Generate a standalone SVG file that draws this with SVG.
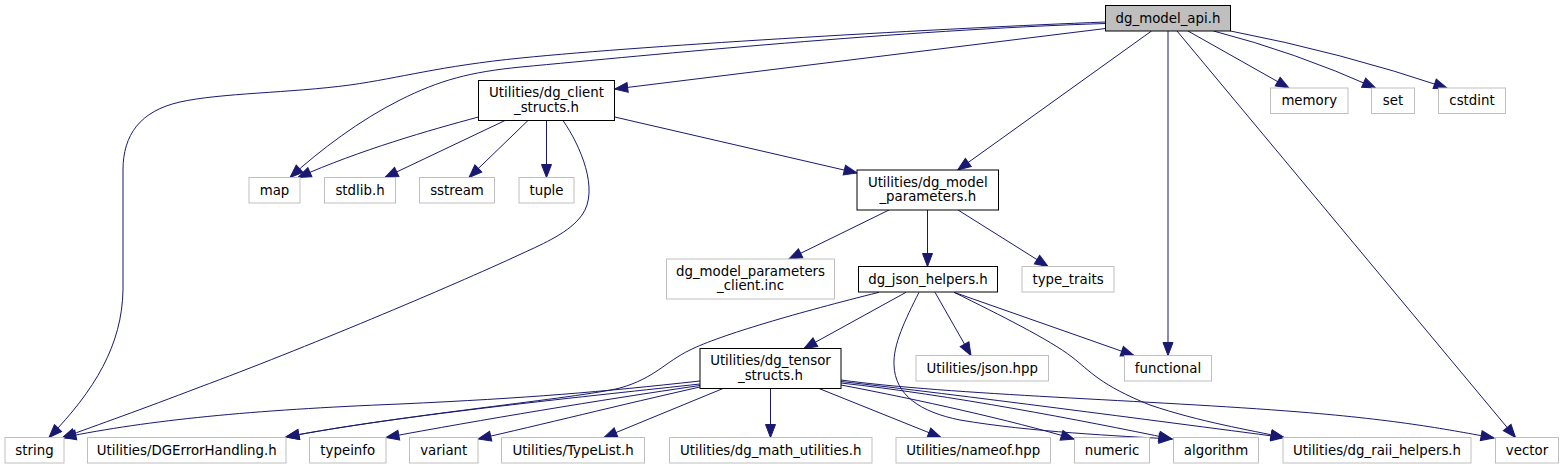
<svg xmlns="http://www.w3.org/2000/svg" width="1563" height="469" viewBox="0 0 1563 469">
<style>
.n rect{fill:#ffffff;stroke:#bfbfbf;stroke-width:1}
.n.k rect{stroke:#000000}
.n.r rect{fill:#bfbfbf;stroke:#000000}
text{font-family:"DejaVu Sans","Liberation Sans",sans-serif;font-size:13.33px;fill:#000000;text-anchor:middle}
#edges path{fill:none;stroke:#191970;stroke-width:1;marker-end:url(#a)}
</style>
<defs>
<marker id="a" markerUnits="userSpaceOnUse" markerWidth="14" markerHeight="11" refX="13" refY="5" orient="auto" overflow="visible">
<path d="M0,0 L13,5 L0,10 z" fill="#191970" stroke="#191970" stroke-width="1"/>
</marker>
</defs>
<rect x="0" y="0" width="1563" height="469" fill="#ffffff"/>
<g id="edges">
<path d="M1105.5,22 C950,28 650,45 521,58 C440,66 400,78 350,85 C290,93 220,93 180,102 C140,111 123,135 123,170 L123,290 C122,345 95,390 49,437.5"/>
<path d="M1105.5,23.5 C900,30 650,55 521,67 C470,72 440,80 400,100 C360,120 320,150 290,177.5"/>
<path d="M1105.5,28.5 L614.7,89"/>
<path d="M1151.5,31 L957.7,170"/>
<path d="M1168,31 L1168,355.5"/>
<path d="M1177,31 L1515.5,437.5"/>
<path d="M1188,31 L1289,88"/>
<path d="M1213.5,31 Q1295,52 1375.5,88"/>
<path d="M1230.5,31 Q1340,52 1447,88"/>
<path d="M478.5,117 C430,130 360,150 298,177.5"/>
<path d="M505,120.5 L385,177.5"/>
<path d="M528,120.5 L469,177.5"/>
<path d="M546.5,120.5 L546.5,177.5"/>
<path d="M563,120.5 C580,145 600,190 582,215 C570,232 545,243 521,254 C450,287 300,350 200,387 C140,410 100,424 62,438"/>
<path d="M614.7,117 L857,173"/>
<path d="M889,210 L789,259"/>
<path d="M927.5,210 L927.5,266.5"/>
<path d="M958,210 L1048,266.5"/>
<path d="M906,292.3 L804,348.5"/>
<path d="M879,292.3 C800,312 720,335 690,350 C665,362 655,378 620,388 C580,398 400,415 286,437"/>
<path d="M935,292.3 L971,355.5"/>
<path d="M954,292.3 L1134,355.5"/>
<path d="M954,292.3 C1000,315 1050,340 1072,357 C1090,371 1100,385 1150,405 C1200,422 1250,430 1284,437.5"/>
<path d="M919,292.3 C905,320 893,345 894,365 C895,395 920,412 960,420 C1030,432 1120,436 1172,439"/>
<path d="M700,381 C600,392 530,398 400,404 C250,410 150,420 63,437.5"/>
<path d="M700,384 C600,395 400,415 286,437"/>
<path d="M700,385.5 C600,400 480,420 386,437.5"/>
<path d="M700,387 C620,405 540,425 478,439"/>
<path d="M723,388.5 L604,437.5"/>
<path d="M770.5,388.5 L770.5,437.5"/>
<path d="M819,388.5 L941,437.5"/>
<path d="M841,385 C920,400 1010,420 1074,439"/>
<path d="M841,383 C950,395 1080,420 1172,439"/>
<path d="M841,381.5 C960,395 1150,420 1284,437.5"/>
<path d="M841,380 C950,395 1150,400 1300,412 C1400,420 1450,430 1494,438"/>
</g>
<g id="n_api" class="n r"><rect x="1105.5" y="5.5" width="125" height="25.5"/><text x="1168" y="22.5">dg_model_api.h</text></g>
<g id="n_client_structs" class="n k"><rect x="478.5" y="80.5" width="136" height="40"/><text x="546.5" y="97">Utilities/dg_client</text><text x="546.5" y="111.5">_structs.h</text></g>
<g id="n_map" class="n"><rect x="249" y="177.5" width="51" height="25.5"/><text x="274.5" y="194.5">map</text></g>
<g id="n_stdlib" class="n"><rect x="324.5" y="177.5" width="71" height="25.5"/><text x="360" y="194.5">stdlib.h</text></g>
<g id="n_sstream" class="n"><rect x="419.5" y="177.5" width="75" height="25.5"/><text x="457" y="194.5">sstream</text></g>
<g id="n_tuple" class="n"><rect x="519" y="177.5" width="55" height="25.5"/><text x="546.5" y="194.5">tuple</text></g>
<g id="n_model_parameters" class="n k"><rect x="857" y="170" width="141.5" height="40"/><text x="927.75" y="186.5">Utilities/dg_model</text><text x="927.75" y="201">_parameters.h</text></g>
<g id="n_memory" class="n"><rect x="1270.5" y="88" width="77.5" height="25.5"/><text x="1309.25" y="105">memory</text></g>
<g id="n_set" class="n"><rect x="1371.5" y="88" width="43" height="25.5"/><text x="1393" y="105">set</text></g>
<g id="n_cstdint" class="n"><rect x="1438.5" y="88" width="67" height="25.5"/><text x="1472" y="105">cstdint</text></g>
<g id="n_client_inc" class="n"><rect x="666.5" y="259" width="168" height="40"/><text x="750.5" y="275.5">dg_model_parameters</text><text x="750.5" y="290">_client.inc</text></g>
<g id="n_json_helpers" class="n k"><rect x="858.5" y="266.5" width="139" height="25.5"/><text x="928" y="283.5">dg_json_helpers.h</text></g>
<g id="n_type_traits" class="n"><rect x="1022" y="266.5" width="92" height="25.5"/><text x="1068" y="283.5">type_traits</text></g>
<g id="n_tensor_structs" class="n k"><rect x="700" y="348.5" width="141" height="40"/><text x="770.5" y="365">Utilities/dg_tensor</text><text x="770.5" y="379.5">_structs.h</text></g>
<g id="n_json_hpp" class="n"><rect x="916" y="355.5" width="132.5" height="25.5"/><text x="982.25" y="372.5">Utilities/json.hpp</text></g>
<g id="n_functional" class="n"><rect x="1124.5" y="355.5" width="87" height="25.5"/><text x="1168" y="372.5">functional</text></g>
<g id="n_string" class="n"><rect x="5" y="437.5" width="59" height="25.5"/><text x="34.5" y="454.5">string</text></g>
<g id="n_dgerror" class="n"><rect x="87.5" y="437.5" width="198.5" height="25.5"/><text x="186.75" y="454.5">Utilities/DGErrorHandling.h</text></g>
<g id="n_typeinfo" class="n"><rect x="309.5" y="437.5" width="76.5" height="25.5"/><text x="347.75" y="454.5">typeinfo</text></g>
<g id="n_variant" class="n"><rect x="409.5" y="437.5" width="68.5" height="25.5"/><text x="443.75" y="454.5">variant</text></g>
<g id="n_typelist" class="n"><rect x="501.5" y="437.5" width="143" height="25.5"/><text x="573" y="454.5">Utilities/TypeList.h</text></g>
<g id="n_math" class="n"><rect x="669.5" y="437.5" width="202.5" height="25.5"/><text x="770.75" y="454.5">Utilities/dg_math_utilities.h</text></g>
<g id="n_nameof" class="n"><rect x="896" y="437.5" width="154.5" height="25.5"/><text x="973.25" y="454.5">Utilities/nameof.hpp</text></g>
<g id="n_numeric" class="n"><rect x="1074.5" y="437.5" width="75" height="25.5"/><text x="1112" y="454.5">numeric</text></g>
<g id="n_algorithm" class="n"><rect x="1173.5" y="437.5" width="85" height="25.5"/><text x="1216" y="454.5">algorithm</text></g>
<g id="n_raii" class="n"><rect x="1283" y="437.5" width="188" height="25.5"/><text x="1377" y="454.5">Utilities/dg_raii_helpers.h</text></g>
<g id="n_vector" class="n"><rect x="1495.5" y="437.5" width="63" height="25.5"/><text x="1527" y="454.5">vector</text></g>
</svg>
